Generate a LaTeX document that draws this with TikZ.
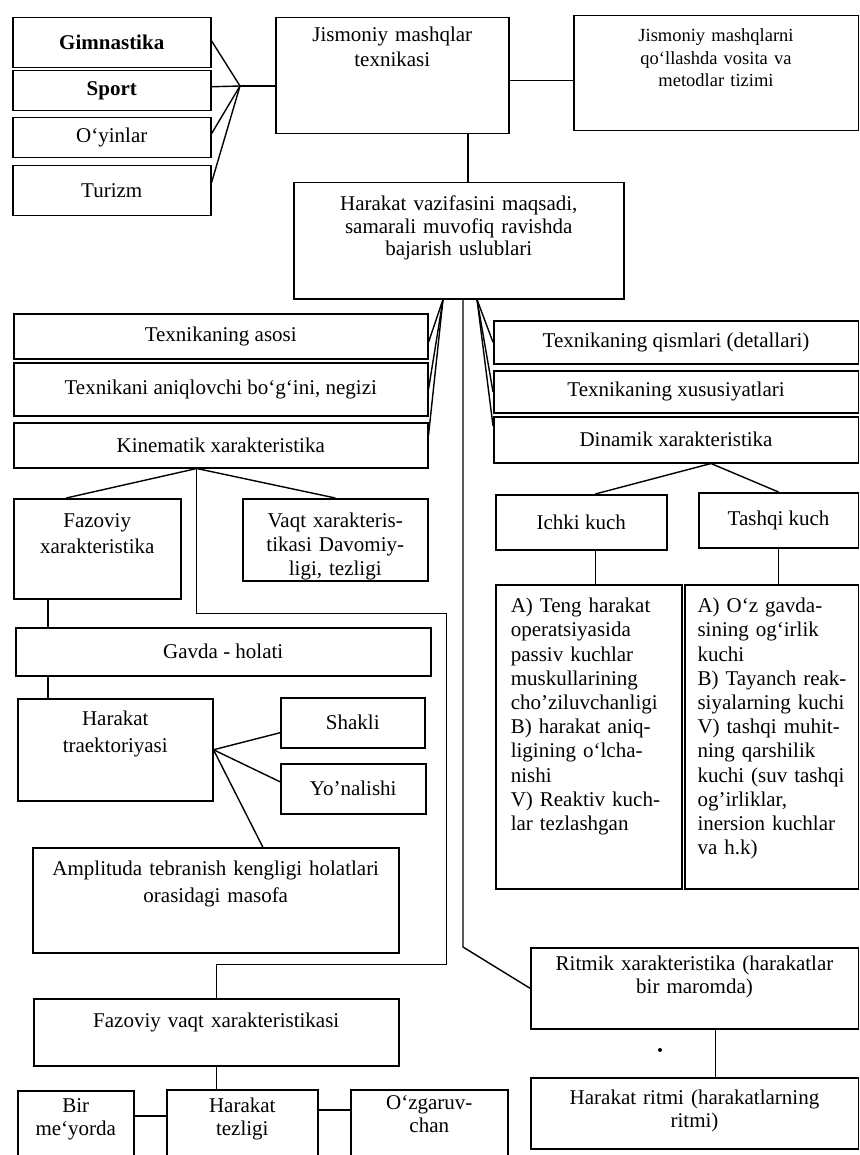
\documentclass[tikz,border=0pt]{standalone}
\usepackage{fontspec}
\setmainfont{Liberation Serif}
\newcommand{\dfs}{\fontsize{21}{22.5}\selectfont}
\begin{document}
\begin{tikzpicture}[x=1pt,y=-1pt,
  bx/.style={draw, line width=1.5pt, inner sep=0pt, anchor=north west, align=center, font=\dfs},
  wh/.style 2 args={minimum width=#1pt, minimum height=#2pt},
  tt/.style n args={3}{text width=#1pt, text height=#2pt, text depth=#3pt},
  ln/.style={line width=1.4pt}]
\useasboundingbox (0,0) rectangle (859,1155);
\clip (0,0) rectangle (859,1155);

% top row
\node[bx, wh={198}{50}, font=\dfs\bfseries] (gim) at (12,17) {Gimnastika};
\node[bx, wh={198}{40}, font=\dfs\bfseries] (sport) at (12,70) {Sport};
\node[bx, wh={198}{40}] (oyin) at (12,117) {O‘yinlar};
\node[bx, wh={198}{50}] (tur) at (12,165) {Turizm};
\node[bx, wh={233}{116}, tt={223}{24}{92}, font=\fontsize{21}{25}\selectfont] (jmt) at (275,17) {Jismoniy mashqlar\\texnikasi};
\node[bx, wh={284.5}{115}, tt={274}{26}{89}, font=\fontsize{18.5}{22.5}\selectfont] (jmq) at (573,15) {Jismoniy mashqlarni\\qo‘llashda vosita va\\metodlar tizimi};
\node[bx, wh={330}{116}, tt={320}{28}{88}] (hv) at (293,182) {Harakat vazifasini maqsadi,\\samarali muvofiq ravishda\\bajarish uslublari};

% second level
\node[bx, wh={414}{45}] (asos) at (13,313) {Texnikaning asosi};
\node[bx, wh={414}{53}] (aniq) at (13,362) {Texnikani aniqlovchi bo‘g‘ini, negizi};
\node[bx, wh={414}{45}] (kin) at (13,422) {Kinematik xarakteristika};
\node[bx, wh={364.5}{43}] (qism) at (493,320) {Texnikaning qismlari (detallari)};
\node[bx, wh={364.5}{42}] (xus) at (493,370) {Texnikaning xususiyatlari};
\node[bx, wh={364.5}{46}] (din) at (493,416) {Dinamik xarakteristika};

% kinematic branch
\node[bx, wh={167}{100}, tt={157}{29}{71}, font=\fontsize{21}{26}\selectfont] (faz) at (13,498) {Fazoviy\\xarakteristika};
\node[bx, wh={185}{82}, tt={175}{29}{53}, font=\fontsize{21}{24}\selectfont] (vaqt) at (242,498) {Vaqt xarakteris-\\tikasi Davomiy-\\ligi, tezligi};
\node[bx, wh={415}{48}] (gavda) at (15,627) {Gavda - holati};
\node[bx, wh={195}{102}, tt={185}{27}{75}, font=\fontsize{21}{27}\selectfont] (trak) at (17,698) {Harakat\\traektoriyasi};
\node[bx, wh={144}{50}] (shakli) at (280,697) {Shakli};
\node[bx, wh={145}{50}] (yon) at (280,763) {Yo’nalishi};
\node[bx, wh={366}{105}, tt={356}{28}{77}, font=\fontsize{21}{27}\selectfont] (ampl) at (32,847) {Amplituda tebranish kengligi holatlari\\orasidagi masofa};
\node[bx, wh={365}{67}, tt={355}{29}{38}] (fvx) at (33,998) {Fazoviy vaqt xarakteristikasi};
\node[bx, wh={116}{80}, tt={110}{22}{58}] (bir) at (17,1090) {Bir\\me‘yorda};
\node[bx, wh={151}{80}, tt={141}{23}{57}] (tez) at (166,1089) {Harakat\\tezligi};
\node[bx, wh={157}{80}, tt={147}{20}{60}, font=\fontsize{21}{23}\selectfont] (ozg) at (350,1089) {O‘zgaruv-\\chan};

% dynamic branch
\node[bx, wh={171}{55}] (ichki) at (495,494) {Ichki kuch};
\node[bx, wh={159.5}{55}] (tashqi) at (698,492) {Tashqi kuch};
\node[bx, wh={186}{304}, tt={172}{28}{276}, align=left, font=\fontsize{21}{24.2}\selectfont] (itxt) at (495,584)
  {\leftskip=8pt A) Teng harakat\\operatsiyasida\\passiv kuchlar\\muskullarining\\cho’ziluvchanligi\\B) harakat aniq-\\ligining o‘lcha-\\nishi\\V) Reaktiv kuch-\\lar tezlashgan\par};
\node[bx, wh={173.5}{304}, tt={166}{28}{276}, align=left, font=\fontsize{21}{24.2}\selectfont] (ttxt) at (684,584)
  {\leftskip=9pt A) O‘z gavda-\\sining og‘irlik\\kuchi\\B) Tayanch reak-\\siyalarning kuchi\\V) tashqi muhit-\\ning qarshilik\\kuchi (suv tashqi\\og’irliklar,\\inersion kuchlar\\va h.k)\par};
\node[bx, wh={327.5}{81}, tt={317}{23}{58}] (ritm) at (530,947) {Ritmik xarakteristika (harakatlar\\bir maromda)};
\node[bx, wh={327.5}{71}, tt={317}{27}{44}, font=\fontsize{21}{23}\selectfont] (hritm) at (530,1077) {Harakat ritmi (harakatlarning\\ritmi)};

% connectors: top
\coordinate (J1) at (240,86);
\draw[ln] ([yshift=2pt]gim.east) -- (J1);
\draw[ln] ([yshift=4pt]sport.east) -- (J1);
\draw[ln] ([yshift=4pt]oyin.east) -- (J1);
\draw[ln] ([yshift=8pt]tur.east) -- (J1);
\draw[ln] (J1) -- (J1 -| jmt.west);
\coordinate (e1) at ([yshift=-5pt]jmt.east);
\draw[ln] (e1) -- (e1 -| jmq.west);
\coordinate (p1) at ([xshift=193pt]jmt.south west);
\draw[ln] (p1) -- (p1 |- hv.north);

% fan below hv
\coordinate (hL) at ([xshift=150pt]hv.south west);
\coordinate (hM) at ([xshift=170pt]hv.south west);
\coordinate (hR) at ([xshift=184pt]hv.south west);
\draw[ln] (hL) -- ([yshift=-6pt]asos.east);
\draw[ln] (hL) -- (aniq.east);
\draw[ln] (hL) -- ([yshift=10pt]kin.east);
\draw[ln] (hR) -- (qism.west);
\draw[ln] (hR) -- (xus.west);
\draw[ln] (hR) -- ([yshift=14pt]din.west);
\coordinate (hMb) at (hM |- ritm.north);
\draw[ln] (hM) -- (hMb) -- (ritm.west);

% kinematic connectors
\coordinate (kB) at ([xshift=-24pt]kin.south);
\draw[ln] (kB) -- ([xshift=-31pt]faz.north);
\draw[ln] (kB) -- (vaqt.north);
\draw[ln] (kB) -- ++(0,145) -- ++(250,0) -- ++(0,351) -| (fvx.north);
\coordinate (f1) at ([xshift=35pt]faz.south west);
\draw[ln] (f1) -- (f1 |- gavda.north);
\coordinate (g1) at (f1 |- gavda.south);
\draw[ln] (g1) -- (g1 |- trak.north);
\draw[ln] (trak.east) -- ([yshift=-10pt]shakli.west);
\draw[ln] (trak.east) -- ([yshift=7pt]yon.west);
\draw[ln] (trak.east) -- ([xshift=47pt]ampl.north);
\draw[ln] (fvx.south) -- (fvx.south |- tez.north);
\coordinate (b1) at ([yshift=-26pt]bir.north east);
\draw[ln] (b1) -- (b1 -| tez.west);
\coordinate (t1) at ([yshift=-21pt]tez.north east);
\draw[ln] (t1) -- (t1 -| ozg.west);

% dynamic connectors
\coordinate (dB) at ([xshift=35pt]din.south);
\draw[ln] (dB) -- ([xshift=14pt]ichki.north);
\draw[ln] (dB) -- (tashqi.north);
\coordinate (i1) at ([xshift=14pt]ichki.south);
\draw[ln] (i1) -- (i1 |- itxt.north);
\draw[ln] (tashqi.south) -- (tashqi.south |- ttxt.north);
\coordinate (r1) at ([xshift=21pt]ritm.south);
\draw[ln] (r1) -- (r1 |- hritm.north);
\fill (660,1050) circle (2pt);
\end{tikzpicture}
\end{document}
